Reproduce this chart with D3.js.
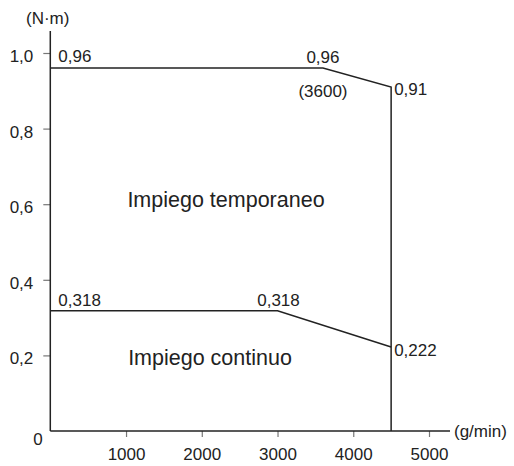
<!DOCTYPE html>
<html>
<head>
<meta charset="utf-8">
<script src="https://cdn.jsdelivr.net/npm/d3@7"></script>
<style>
  body { margin: 0; background: #fff; }
  svg { display: block; font-family: "Liberation Sans", Arial, sans-serif; }
</style>
</head>
<body>
<svg id="chart" width="514" height="466"></svg>
<script>
// chart values
var xTicks = [1000, 2000, 3000, 4000, 5000];
var yTicks = [0.2, 0.4, 0.6, 0.8, 1.0];
var tempSpeed = [0, 3600, 4500, 4500];
var tempTorque = [0.96, 0.96, 0.91, 0];
var contSpeed = [0, 3000, 4500];
var contTorque = [0.318, 0.318, 0.222];

var itFormat = d3.formatLocale({decimal: ",", thousands: ".", grouping: [3], currency: ["", "€"]});
var fmt1 = itFormat.format(".1f");

var svg = d3.select("#chart");
var ink = "#222";

var x = d3.scaleLinear().domain([0, 5000]).range([50.3, 429]);
var y = d3.scaleLinear().domain([0, 1]).range([431, 53]);

// axes ---------------------------------------------------------------
var gx = svg.append("g").attr("transform", "translate(0," + y(0) + ")")
    .call(d3.axisBottom(x).tickValues(xTicks).tickSize(6).tickPadding(11).tickFormat(d3.format("d")));
var gy = svg.append("g").attr("transform", "translate(" + x(0) + ",0)")
    .call(d3.axisLeft(y).tickValues(yTicks).tickSize(7).tickPadding(10).tickFormat(fmt1));

[gx, gy].forEach(function(g) {
    g.select(".domain").remove();
    g.selectAll(".tick line").attr("stroke", "#777").attr("stroke-width", 1.2);
    g.selectAll(".tick text").attr("fill", ink).style("font-size", "17px");
});
gy.selectAll(".tick text").attr("dy", "0.5em");

svg.append("line").attr("x1", x(0)).attr("x2", 450).attr("y1", y(0)).attr("y2", y(0))
    .attr("stroke", ink).attr("stroke-width", 1.5);
svg.append("line").attr("x1", x(0)).attr("x2", x(0)).attr("y1", y(0)).attr("y2", 31)
    .attr("stroke", ink).attr("stroke-width", 1.5);

svg.append("text").attr("x", 38).attr("y", y(0) + 14)
    .attr("text-anchor", "middle").attr("fill", ink).style("font-size", "17px").text("0");
svg.append("text").attr("x", 26).attr("y", 24).attr("fill", ink).style("font-size", "17px").text("(N\u00b7m)");
svg.append("text").attr("x", 454).attr("y", y(0) + 6).attr("fill", ink).style("font-size", "17px").text("(g/min)");

// torque curves ------------------------------------------------------
var line = d3.line().x(function(d) { return x(d[0]); }).y(function(d) { return y(d[1]); });

svg.append("path").datum(d3.zip(tempSpeed, tempTorque)).attr("d", line)
    .attr("fill", "none").attr("stroke", ink).attr("stroke-width", 1.5);
svg.append("path").datum(d3.zip(contSpeed, contTorque)).attr("d", line)
    .attr("fill", "none").attr("stroke", ink).attr("stroke-width", 1.5);

// point labels
var labels = [
    {s: 0, t: 0.96, txt: "0,96", dx: 8, dy: -6, anchor: "start"},
    {s: 3600, t: 0.96, txt: "0,96", dx: 0, dy: -5, anchor: "middle"},
    {s: 3600, t: 0.96, txt: "(3600)", dx: 0, dy: 29, anchor: "middle"},
    {s: 4500, t: 0.91, txt: "0,91", dx: 3, dy: 8, anchor: "start"},
    {s: 0, t: 0.318, txt: "0,318", dx: 8, dy: -5, anchor: "start"},
    {s: 3000, t: 0.318, txt: "0,318", dx: 1, dy: -5, anchor: "middle"},
    {s: 4500, t: 0.222, txt: "0,222", dx: 3, dy: 9, anchor: "start"}
];
svg.selectAll("text.pt").data(labels).enter().append("text").attr("class", "pt")
    .attr("x", function(d) { return x(d.s) + d.dx; })
    .attr("y", function(d) { return y(d.t) + d.dy; })
    .attr("text-anchor", function(d) { return d.anchor; })
    .attr("fill", ink).style("font-size", "17px")
    .text(function(d) { return d.txt; });

// region names
svg.append("text").attr("x", 226).attr("y", 207).attr("text-anchor", "middle")
    .attr("fill", ink).style("font-size", "21.5px").text("Impiego temporaneo");
svg.append("text").attr("x", 210).attr("y", 365).attr("text-anchor", "middle")
    .attr("fill", ink).style("font-size", "21.5px").text("Impiego continuo");
</script>
</body>
</html>
